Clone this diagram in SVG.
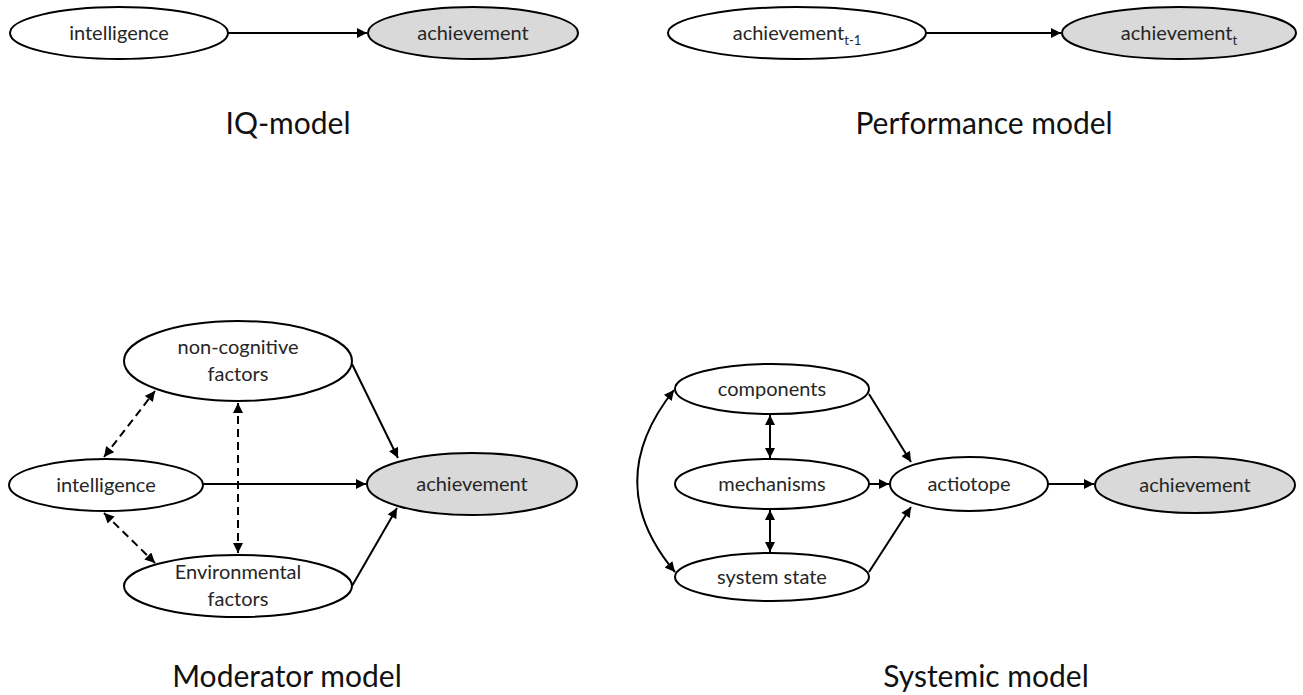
<svg xmlns="http://www.w3.org/2000/svg" width="1303" height="695" viewBox="0 0 1303 695">
  <defs>
    <marker id="arrow" viewBox="0 0 10 10" refX="10" refY="5" markerWidth="11" markerHeight="10" markerUnits="userSpaceOnUse" orient="auto-start-reverse">
      <path d="M0,0 L10,5 L0,10 z" fill="#000"/>
    </marker>
    <style>
      .node ellipse { fill: #fff; stroke: #000; stroke-width: 2; }
      .node.target ellipse { fill: #d9d9d9; }
      .node text { font-family: Lato, "Open Sans", sans-serif; font-size: 20px; fill: #262626; text-anchor: middle; }
      .node text .sub { font-size: 13px; }
      .title { font-family: Lato, "Open Sans", sans-serif; font-size: 30px; fill: #111; text-anchor: middle; }
      .edge { stroke: #000; stroke-width: 2; fill: none; }
      .dash { stroke-dasharray: 8 5; }
    </style>
  </defs>

  <!-- IQ-model -->
  <g id="iq-intelligence" class="node">
    <ellipse cx="119" cy="33" rx="109" ry="26"/>
    <text x="119" y="40">intelligence</text>
  </g>
  <g id="iq-achievement" class="node target">
    <ellipse cx="473" cy="33" rx="105" ry="26"/>
    <text x="473" y="40">achievement</text>
  </g>

  <!-- Performance model -->
  <g id="perf-prior" class="node">
    <ellipse cx="797" cy="33" rx="129" ry="26"/>
    <text x="797" y="40">achievement<tspan class="sub" dy="5">t-1</tspan></text>
  </g>
  <g id="perf-current" class="node target">
    <ellipse cx="1179" cy="33" rx="117" ry="26"/>
    <text x="1179" y="40">achievement<tspan class="sub" dy="5">t</tspan></text>
  </g>

  <!-- Moderator model -->
  <g id="mod-noncog" class="node">
    <ellipse cx="238" cy="361" rx="114" ry="40"/>
    <text x="238" y="354">non-cognitive</text>
    <text x="238" y="381">factors</text>
  </g>
  <g id="mod-intelligence" class="node">
    <ellipse cx="106" cy="485" rx="97" ry="26"/>
    <text x="106" y="492">intelligence</text>
  </g>
  <g id="mod-achievement" class="node target">
    <ellipse cx="472" cy="484" rx="105" ry="31"/>
    <text x="472" y="491">achievement</text>
  </g>
  <g id="mod-environment" class="node">
    <ellipse cx="238" cy="586" rx="114" ry="31"/>
    <text x="238" y="579">Environmental</text>
    <text x="238" y="606">factors</text>
  </g>

  <!-- Systemic model -->
  <g id="sys-components" class="node">
    <ellipse cx="772" cy="389" rx="97" ry="25"/>
    <text x="772" y="396">components</text>
  </g>
  <g id="sys-mechanisms" class="node">
    <ellipse cx="772" cy="484" rx="97" ry="25"/>
    <text x="772" y="491">mechanisms</text>
  </g>
  <g id="sys-state" class="node">
    <ellipse cx="772" cy="577" rx="97" ry="24"/>
    <text x="772" y="584">system state</text>
  </g>
  <g id="sys-actiotope" class="node">
    <ellipse cx="969" cy="484" rx="79" ry="27"/>
    <text x="969" y="491">actiotope</text>
  </g>
  <g id="sys-achievement" class="node target">
    <ellipse cx="1195" cy="485" rx="100" ry="28"/>
    <text x="1195" y="492">achievement</text>
  </g>

  <!-- Connectors -->
  <g id="connectors">
    <line class="edge" x1="228" y1="33" x2="367" y2="33" marker-end="url(#arrow)"/>
    <line class="edge" x1="926" y1="33" x2="1061" y2="33" marker-end="url(#arrow)"/>

    <line class="edge" x1="203" y1="484" x2="366" y2="484" marker-end="url(#arrow)"/>
    <line class="edge" x1="352" y1="364" x2="398" y2="458" marker-end="url(#arrow)"/>
    <line class="edge" x1="352" y1="586" x2="397" y2="508" marker-end="url(#arrow)"/>
    <line class="edge dash" x1="104" y1="457" x2="155" y2="391" marker-start="url(#arrow)" marker-end="url(#arrow)"/>
    <line class="edge dash" x1="238" y1="403" x2="238" y2="553" marker-start="url(#arrow)" marker-end="url(#arrow)"/>
    <line class="edge dash" x1="104" y1="513" x2="155" y2="563" marker-start="url(#arrow)" marker-end="url(#arrow)"/>

    <line class="edge" x1="770" y1="415" x2="770" y2="458" marker-start="url(#arrow)" marker-end="url(#arrow)"/>
    <line class="edge" x1="770" y1="510" x2="770" y2="552" marker-start="url(#arrow)" marker-end="url(#arrow)"/>
    <path class="edge" d="M674,390 Q600,483 675,572" marker-start="url(#arrow)" marker-end="url(#arrow)"/>
    <line class="edge" x1="869" y1="394" x2="911" y2="462" marker-end="url(#arrow)"/>
    <line class="edge" x1="869" y1="484" x2="889" y2="484" marker-end="url(#arrow)"/>
    <line class="edge" x1="869" y1="572" x2="911" y2="507" marker-end="url(#arrow)"/>
    <line class="edge" x1="1048" y1="484" x2="1094" y2="484" marker-end="url(#arrow)"/>
  </g>

  <!-- Model titles -->
  <text class="title" x="288" y="134">IQ-model</text>
  <text class="title" x="984" y="134">Performance model</text>
  <text class="title" x="287" y="687">Moderator model</text>
  <text class="title" x="986" y="687">Systemic model</text>
</svg>
